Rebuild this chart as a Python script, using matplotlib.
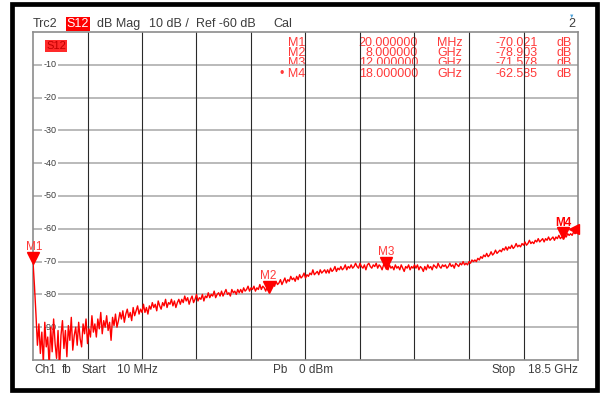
"""
Network analyzer screen: S12 transmission, dB Mag, 10 MHz .. 18.5 GHz.
"""
import numpy as np
import matplotlib.pyplot as plt
from matplotlib.patches import Rectangle
from matplotlib.transforms import offset_copy

plt.rcParams['font.family'] = ['Liberation Sans', 'DejaVu Sans']

W, H = 605, 394

START_GHZ = 0.01
STOP_GHZ = 18.5
REF_DB = -60
Y_TOP, Y_BOTTOM = 0, -100

# trace values, one row per GHz (20 points per GHz)
trace_db = [
    -70.0, -77.5, -86.0, -95.5, -89.0, -98.0, -91.5, -101.0, -88.5, -96.0, -93.0, -102.0, -90.0, -97.5, -87.5, -95.0, -99.5, -91.0, -103.0, -92.5,
    -88.0, -96.5, -91.0, -99.0, -89.5, -94.0, -87.0, -97.0, -92.5, -90.0, -95.5, -88.5, -93.5, -96.0, -89.0, -92.0, -87.5, -95.0, -90.5, -93.0,
    -86.5, -91.5, -89.0, -93.0, -87.5, -90.5, -85.5, -92.0, -88.0, -90.0, -86.5, -91.0, -88.5, -94.0, -87.0, -89.5, -86.0, -90.0, -88.0, -85.5,
    -87.5, -85.0, -88.5, -86.0, -84.5, -87.0, -85.5, -88.0, -84.0, -86.5, -85.0, -83.5, -86.0, -84.5, -85.5, -83.0, -85.5, -84.0, -86.0, -83.5,
    -84.5, -82.5, -84.0, -83.0, -85.0, -82.0, -83.5, -84.5, -82.5, -83.5, -81.5, -84.0, -82.5, -83.0, -81.5, -83.5, -82.0, -84.0, -82.5, -81.5,
    -83.0, -81.5, -82.5, -80.5, -82.0, -81.0, -83.0, -81.5, -80.5, -82.5, -81.5, -80.0, -82.0, -81.0, -81.5, -80.0, -82.0, -80.5, -81.0, -79.5,
    -81.0, -80.0, -80.5, -79.0, -81.0, -80.0, -79.5, -80.5, -79.0, -80.5, -79.5, -78.5, -80.0, -79.5, -80.5, -78.5, -79.5, -79.0, -80.0, -78.5,
    -79.5, -78.5, -79.5, -78.0, -79.0, -78.5, -77.5, -79.0, -78.0, -78.5, -77.5, -79.0, -78.0, -78.5, -77.0, -78.5, -77.5, -78.0, -79.0, -77.5,
    -78.9, -77.0, -78.0, -76.5, -77.5, -76.0, -77.0, -76.5, -75.5, -77.0, -76.0, -75.0, -76.5, -75.5, -76.0, -74.5, -75.5, -75.0, -76.0, -74.5,
    -75.5, -74.0, -75.0, -74.5, -73.5, -75.0, -74.0, -74.5, -73.5, -74.0, -72.5, -74.0, -73.5, -73.0, -74.0, -72.5, -73.5, -73.0, -72.5, -73.5,
    -72.5, -73.5, -72.0, -73.0, -72.5, -71.5, -73.0, -72.0, -72.5, -71.5, -72.5, -72.0, -71.0, -72.5, -71.5, -72.0, -71.0, -72.0, -71.5, -70.5,
    -71.5, -72.0, -70.5, -71.5, -72.0, -71.0, -72.5, -71.0, -70.5, -71.5, -72.0, -71.0, -71.5, -70.5, -72.0, -71.0, -71.5, -72.5, -71.0, -70.5,
    -71.6, -72.5, -71.0, -72.0, -71.5, -72.5, -71.0, -72.0, -71.5, -72.5, -71.0, -72.0, -73.0, -71.5, -72.0, -71.0, -72.5, -71.5, -72.0, -71.0,
    -72.0, -71.0, -72.5, -71.5, -72.0, -73.0, -71.5, -72.5, -71.0, -72.0, -71.5, -72.5, -71.0, -71.5, -72.0, -70.5, -71.5, -72.0, -71.0, -71.5,
    -71.0, -72.0, -71.5, -70.5, -71.5, -71.0, -72.0, -70.5, -71.0, -71.5, -70.5, -71.0, -70.0, -71.0, -70.5, -71.0, -70.0, -70.5, -69.5, -70.0,
    -69.5, -70.0, -69.0, -69.5, -68.5, -69.0, -68.0, -68.5, -67.5, -68.5, -68.0, -67.0, -68.0, -67.5, -66.5, -67.5, -67.0, -66.5, -67.0, -66.0,
    -66.5, -65.5, -66.5, -65.5, -66.0, -65.0, -66.0, -65.5, -64.5, -65.5, -65.0, -65.5, -64.5, -65.0, -64.0, -65.0, -64.5, -63.5, -64.5, -64.0,
    -64.5, -63.5, -64.0, -63.0, -64.0, -63.5, -63.0, -64.0, -63.0, -63.5, -62.5, -63.5, -63.0, -62.5, -63.5, -62.5, -63.0, -62.0, -63.0, -62.5,
    -62.6, -62.0, -62.5, -61.5, -62.0, -61.5, -62.0, -61.0, -61.5, -61.0, -61.2,
]

marker_names = ['M1', 'M2', 'M3', 'M4']
marker_freq_ghz = [0.02, 8.0, 12.0, 18.0]
marker_freq_text = ['20.000000', '8.000000', '12.000000', '18.000000']
marker_units = ['MHz', 'GHz', 'GHz', 'GHz']
marker_db = [-70.021, -78.903, -71.578, -62.585]
active_marker = 'M4'

y_tick_values = [-10, -20, -30, -40, -50, -60, -70, -80, -90]

RED = '#ff0000'
TXT_RED = '#ff3a3a'
GRAY_TXT = '#3c3c3c'


def fx(px):
    return px / W


def fy(py):
    return 1 - py / H


fig = plt.figure(figsize=(W / 100, H / 100), dpi=100)
ax = fig.add_axes([fx(33), fy(360), (578 - 33) / W, (360 - 32) / H])

freqs = np.linspace(START_GHZ, STOP_GHZ, len(trace_db))
ax.plot(freqs, trace_db, color=RED, lw=1.0, zorder=3)

ax.set_xlim(START_GHZ, STOP_GHZ)
ax.set_ylim(Y_BOTTOM, Y_TOP)
ax.set_xticks([])
ax.set_yticks([])
for sp in ax.spines.values():
    sp.set_color('#8c8c8c')
    sp.set_linewidth(1.2)

# graticule: 10 x 10 divisions
for y in range(Y_TOP - 10, Y_BOTTOM, -10):
    ax.axhline(y, color='#b4b4b4', lw=1.3, zorder=1)
for x in np.linspace(START_GHZ, STOP_GHZ, 11)[1:-1]:
    ax.axvline(x, color='#2a2a2a', lw=0.8, zorder=1)

# y labels sit inside the grid with a white backing
for v in y_tick_values:
    ax.text((50 - 33) / 545, v, f'{v}', transform=ax.get_yaxis_transform(),
            ha='center', va='center', fontsize=6.5, color=GRAY_TXT, zorder=2,
            bbox=dict(fc='white', ec='none', pad=1.2))

# markers
tri_tf = offset_copy(ax.transData, fig=fig, y=3, units='points')
for name, f, db in zip(marker_names, marker_freq_ghz, marker_db):
    ax.plot([f], [db], marker='v', ms=8, color=RED, transform=tri_tf,
            clip_on=False, zorder=4)
    ax.annotate(name, (f, db), xytext=(1 if name == 'M1' else 0, 10.5),
                textcoords='offset points',
                ha='center', va='center', fontsize=8.5,
                color=RED if name == active_marker else TXT_RED,
                fontweight='bold' if name == active_marker else 'normal',
                annotation_clip=False, zorder=4)

# reference level arrow on the right edge
ref_tf = offset_copy(ax.transData, fig=fig, x=-3, units='points')
ax.plot([STOP_GHZ], [REF_DB], marker='<', ms=7, color=RED, transform=ref_tf,
        clip_on=False, zorder=4)

# marker table
row_y = [42.5, 53, 63.5, 74]
for ry, name, ftxt, unit, db in zip(row_y, marker_names, marker_freq_text,
                                    marker_units, marker_db):
    kw = dict(transform=fig.transFigure, va='center', fontsize=9,
              color=TXT_RED, zorder=0.5)
    label = ('\u2022 ' + name) if name == active_marker else name
    ax.text(fx(305), fy(ry), label, ha='right', **kw)
    ax.text(fx(418), fy(ry), ftxt, ha='right', **kw)
    ax.text(fx(450), fy(ry), unit, ha='center', **kw)
    ax.text(fx(538), fy(ry), f'{db:.3f}', ha='right', **kw)
    ax.text(fx(572), fy(ry), 'dB', ha='right', **kw)

# trace label inside the grid
ax.text(fx(56), fy(46), 'S12', transform=fig.transFigure, ha='center',
        va='center', fontsize=8, color='#c00000', zorder=5,
        bbox=dict(fc='#ff2a2a', ec='none', pad=0.8))

# header line
hy = fy(24)
hkw = dict(va='center', fontsize=9, color=GRAY_TXT)
fig.text(fx(33), hy, 'Trc2', ha='left', **hkw)
fig.text(fx(78), hy, 'S12', ha='center', va='center', fontsize=9, color='white',
         bbox=dict(fc=RED, ec='none', pad=0.8))
fig.text(fx(97), hy, 'dB Mag', ha='left', **hkw)
fig.text(fx(149), hy, '10 dB /', ha='left', **hkw)
fig.text(fx(196), hy, 'Ref -60 dB', ha='left', **hkw)
fig.text(fx(273), hy, 'Cal', ha='left', **hkw)
fig.text(fx(572), hy, '2', ha='center', **hkw)
fig.text(fx(572), fy(16), '\u25bc', ha='center', va='center', fontsize=4,
         color='#4a9fd8')

# footer line
by = fy(370)
bkw = dict(va='center', fontsize=8.5, color=GRAY_TXT)
fig.text(fx(34), by, 'Ch1', ha='left', **bkw)
fig.text(fx(62), by, 'fb', ha='left', **bkw)
fig.text(fx(82), by, 'Start', ha='left', **bkw)
fig.text(fx(117), by, '10 MHz', ha='left', **bkw)
fig.text(fx(273), by, 'Pb', ha='left', **bkw)
fig.text(fx(299), by, '0 dBm', ha='left', **bkw)
fig.text(fx(492), by, 'Stop', ha='left', **bkw)
fig.text(fx(578), by, '18.5 GHz', ha='right', **bkw)

# thick black screen border
fig.patches.append(Rectangle((fx(12), fy(390)), (597 - 12) / W, (390 - 4) / H,
                             transform=fig.transFigure, fill=False,
                             ec='black', lw=3.4))

fig.savefig('out.png', dpi=100, facecolor='white')
